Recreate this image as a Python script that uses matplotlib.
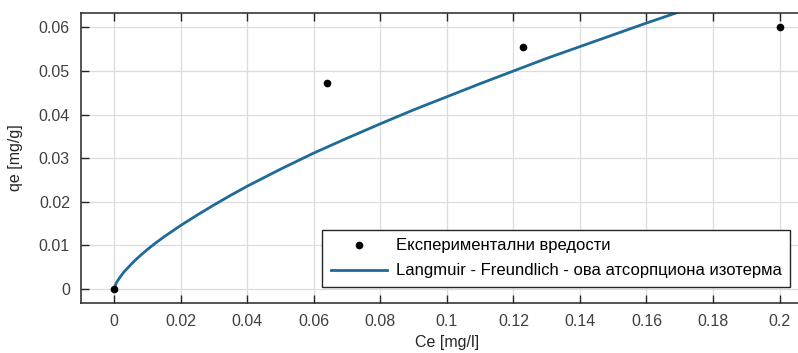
import matplotlib.pyplot as plt

plt.rcParams['font.family'] = ['Liberation Sans', 'DejaVu Sans']

# Experimental values
ce_exp = [0.0, 0.064, 0.123, 0.2]
qe_exp = [0.0, 0.0472, 0.0556, 0.0601]

# Fitted Langmuir-Freundlich curve
ce_fit = [0.0, 0.0005, 0.001, 0.002, 0.003, 0.004, 0.006, 0.008, 0.01, 0.0125,
          0.015, 0.0175, 0.02, 0.025, 0.03, 0.035, 0.04, 0.05, 0.06, 0.07,
          0.08, 0.09, 0.10, 0.11, 0.12, 0.13, 0.14, 0.15, 0.16, 0.17, 0.18]
qe_fit = [0.0, 0.0012, 0.0019, 0.0030, 0.0040, 0.0048, 0.0064, 0.0078, 0.0091, 0.0106,
          0.0120, 0.0133, 0.0146, 0.0170, 0.0193, 0.0215, 0.0236, 0.0275, 0.0312, 0.0346,
          0.0379, 0.0411, 0.0441, 0.0471, 0.0500, 0.0529, 0.0556, 0.0583, 0.0610, 0.0636, 0.0661]

xticks = [0, 0.02, 0.04, 0.06, 0.08, 0.1, 0.12, 0.14, 0.16, 0.18, 0.2]
yticks = [0, 0.01, 0.02, 0.03, 0.04, 0.05, 0.06]

fig = plt.figure(figsize=(7.98, 3.53), dpi=100)
ax = fig.add_axes([0.1015, 0.1416, 0.917, 0.8215])

ax.plot(ce_exp, qe_exp, 'o', color='black', markersize=4.5,
        label='Експериментални вредости', zorder=3)
ax.plot(ce_fit, qe_fit, '-', color='#1f6a98', linewidth=2.0,
        label='Langmuir - Freundlich - ова атсорпциона изотерма')

ax.set_xlim(-0.01, 0.21)
ax.set_ylim(-0.0032, 0.0633)
ax.set_xticks(xticks)
ax.set_yticks(yticks)
ax.set_xticklabels(['%g' % t for t in xticks])
ax.set_yticklabels(['%g' % t for t in yticks])

ax.grid(True, color='#dcdcdc', linewidth=0.9)
ax.set_axisbelow(True)
ax.tick_params(direction='in', length=6, width=1, top=True, right=True,
               labelsize=11.5, colors='#262626', labelcolor='#404040', pad=8)
for s in ax.spines.values():
    s.set_color('#262626')
    s.set_linewidth(1.1)

ax.set_xlabel('Ce [mg/l]', fontsize=11.5, color='#262626', labelpad=4)
ax.set_ylabel('qe [mg/g]', fontsize=11.5, color='#262626', labelpad=11)

leg = ax.legend(loc='lower right', bbox_to_anchor=(0.9686, 0.056),
                borderaxespad=0, fancybox=False, edgecolor='#262626',
                framealpha=1, fontsize=12, handlelength=3.4,
                borderpad=0.5, labelspacing=0.6, handletextpad=0.5)
leg.get_frame().set_linewidth(1.0)

plt.savefig('out.png', dpi=100)
